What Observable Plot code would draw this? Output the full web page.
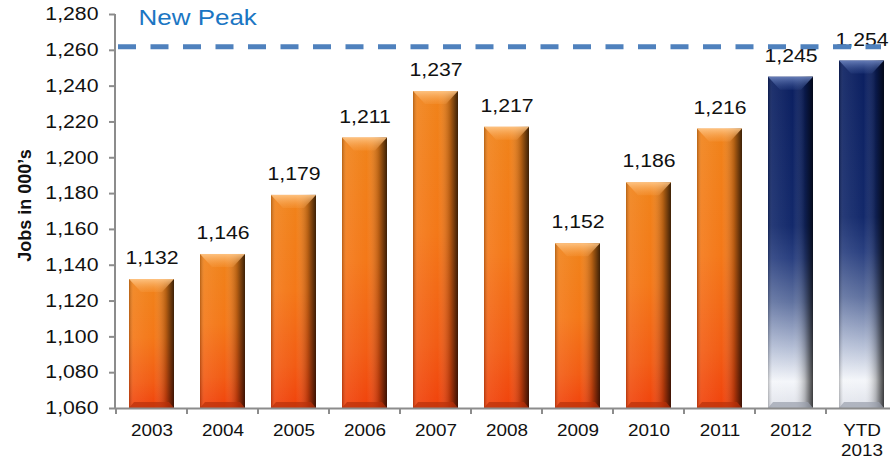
<!DOCTYPE html>
<html><head><meta charset="utf-8">
<script src="https://cdn.jsdelivr.net/npm/d3@7"></script>
<script src="https://cdn.jsdelivr.net/npm/@observablehq/plot@0.6"></script>
<style>
html,body{margin:0;padding:0;background:#fff;}
#chart{font-family:"Liberation Sans",Arial,sans-serif;}
</style>
</head><body><div id="chart"></div>
<script>
const years = ["2003","2004","2005","2006","2007","2008","2009","2010","2011","2012","YTD\n2013"];
const jobs = [1132,1146,1179,1211,1237,1217,1152,1186,1216,1245,1254];
const kinds = ["past","past","past","past","past","past","past","past","past","recent","recent"];
const yTicks = [1060,1080,1100,1120,1140,1160,1180,1200,1220,1240,1260,1280];
const baseline = 1060;
const peakValue = 1262;
const peakLabel = "New Peak";
const yLabel = "Jobs in 000\u2019s";

const data = years.map((y, i) => ({year: y, value: jobs[i], kind: kinds[i]}));
const past = data.filter(d => d.kind === "past");
const recent = data.filter(d => d.kind === "recent");
const fmt = d3.format(",");

const plot = Plot.plot({
  width: 890,
  height: 461,
  marginLeft: 115,
  marginRight: 0,
  marginTop: 14,
  marginBottom: 53,
  style: {fontFamily: '"Liberation Sans", Arial, sans-serif', background: "#fff"},
  x: {domain: years, range: [115, 897.5], paddingInner: 0.366, paddingOuter: 0.183, label: null},
  y: {domain: [1060, 1280], label: null},
  marks: [
    Plot.barY(past, {x: "year", y1: baseline, y2: "value", fill: "url(#gOrange)", className: "base-bar orange"}),
    Plot.barY(recent, {x: "year", y1: baseline, y2: "value", fill: "url(#gNavy)", className: "base-bar navy"}),
    Plot.barY(data, {x: "year", y1: baseline, y2: "value", fill: "url(#gShade)"}),
    Plot.ruleY([baseline], {stroke: "#8c8c8c", strokeWidth: 2}),
    Plot.text(data, {x: "year", y: "value", text: d => fmt(d.value), lineAnchor: "bottom", dy: -15.5, fontSize: 18, fill: "#111", className: "stretch"}),
    Plot.ruleY([peakValue], {stroke: "#4f81bd", strokeWidth: 5, strokeDasharray: "18,14.5", strokeDashoffset: 29.5, className: "peak-rule"}),
    Plot.text([peakLabel], {frameAnchor: "top-left", dx: 23, dy: -5, lineAnchor: "top", fontSize: 22, fill: "#1b76c3", className: "stretch"}),
    Plot.text([yLabel], {frameAnchor: "left", textAnchor: "middle", dx: -90.5, dy: -6, rotate: -90, fontSize: 18, fontWeight: "bold", fill: "#111"}),
    Plot.axisY({ticks: yTicks, tickFormat: d => fmt(d), tickSize: 6, tickPadding: 11, stroke: "#8c8c8c", strokeWidth: 2, fill: "#111", fontSize: 18, label: null}),
    Plot.axisX({tickSize: 0, tickPadding: 13, fill: "#111", fontSize: 16, lineHeight: 1.25, label: null})
  ]
});

const svg = d3.select(plot);
const defs = svg.insert("defs", ":first-child");
const orange = defs.append("linearGradient").attr("id", "gOrange").attr("x1", 0).attr("y1", 0).attr("x2", 0).attr("y2", 1);
[["0%", "#f0831a"], ["45%", "#f47818"], ["80%", "#f25c14"], ["100%", "#f0420c"]].forEach(([o, c]) => orange.append("stop").attr("offset", o).attr("stop-color", c));
const navy = defs.append("linearGradient").attr("id", "gNavy").attr("x1", 0).attr("y1", 0).attr("x2", 0).attr("y2", 1);
[["0%", "#0b1f60"], ["45%", "#13296b"], ["55%", "#2a4080"], ["68%", "#6072a0"], ["82%", "#b5bfd6"], ["92%", "#f4f6fa"], ["100%", "#dfe2ea"]].forEach(([o, c]) => navy.append("stop").attr("offset", o).attr("stop-color", c));
const shade = defs.append("linearGradient").attr("id", "gShade").attr("x1", 0).attr("y1", 0).attr("x2", 1).attr("y2", 0);
[["0%", "#000", 0.25], ["10%", "#fff", 0.08], ["55%", "#fff", 0.0], ["82%", "#000", 0.25], ["100%", "#000", 0.75]].forEach(([o, c, a]) => shade.append("stop").attr("offset", o).attr("stop-color", c).attr("stop-opacity", a));
const bevO = defs.append("linearGradient").attr("id", "bevO").attr("x1", 0).attr("y1", 0).attr("x2", 0).attr("y2", 1);
[["0%", "#ffc88a", 0.9], ["100%", "#f7a04a", 0.25]].forEach(([o, c, a]) => bevO.append("stop").attr("offset", o).attr("stop-color", c).attr("stop-opacity", a));
const bevN = defs.append("linearGradient").attr("id", "bevN").attr("x1", 0).attr("y1", 0).attr("x2", 0).attr("y2", 1);
[["0%", "#6f86c0", 0.9], ["100%", "#3a5496", 0.2]].forEach(([o, c, a]) => bevN.append("stop").attr("offset", o).attr("stop-color", c).attr("stop-opacity", a));

// bevels on top and bottom of each drawn bar
const bevelLayer = svg.append("g");
svg.selectAll("g.base-bar rect").each(function() {
  const r = d3.select(this);
  const isNavy = this.parentNode.classList.contains("navy");
  const x = +r.attr("x"), y = +r.attr("y"), w = +r.attr("width"), h = +r.attr("height");
  const b = 13, s = 12;
  bevelLayer.append("path")
    .attr("d", `M${x},${y}H${x + w}L${x + w - s},${y + b}H${x + s}Z`)
    .attr("fill", isNavy ? "url(#bevN)" : "url(#bevO)");
  bevelLayer.append("path")
    .attr("d", `M${x},${y + h}H${x + w}L${x + w - 5},${y + h - 6}H${x + 5}Z`)
    .attr("fill", isNavy ? "#9aa0ad" : "#b8300a").attr("opacity", 0.7);
});
const firstRule = svg.select("g[aria-label='rule']").node();
plot.insertBefore(bevelLayer.node(), firstRule);

// dashed peak line stops short of the right edge, as in the reference
svg.selectAll("g.peak-rule line").attr("x2", 881);

// y axis line and band-boundary ticks, from Plot's scales
const xs = plot.scale("x"), ys = plot.scale("y");
const y0 = ys.apply(baseline), yTop = ys.apply(1280);
const axisLayer = svg.append("g").attr("stroke", "#8c8c8c").attr("stroke-width", 2);
axisLayer.append("line").attr("x1", xs.range[0]).attr("x2", xs.range[0]).attr("y1", yTop).attr("y2", y0);
const gap = (xs.step - xs.bandwidth) / 2;
xs.domain.forEach(d => {
  const bx = xs.apply(d) - gap;
  axisLayer.append("line").attr("x1", bx).attr("x2", bx).attr("y1", y0).attr("y2", y0 + 6);
});

document.getElementById("chart").appendChild(plot);

// horizontal stretch of the reference's lettering (glyphs are ~18% wider)
const stretch = 1.18;
function stretchText(sel) {
  sel.each(function() {
    const tspans = this.querySelectorAll("tspan");
    const nodes = tspans.length ? Array.from(tspans) : [this];
    nodes.forEach(n => {
      const len = n.getComputedTextLength();
      if (len > 0) {
        n.setAttribute("textLength", (len * stretch).toFixed(2));
        n.setAttribute("lengthAdjust", "spacingAndGlyphs");
      }
    });
  });
}
stretchText(svg.selectAll('g[aria-label="y-axis tick label"] text'));
stretchText(svg.selectAll('g[aria-label="x-axis tick label"] text'));
stretchText(svg.selectAll('g.stretch text'));
</script>
</body></html>
